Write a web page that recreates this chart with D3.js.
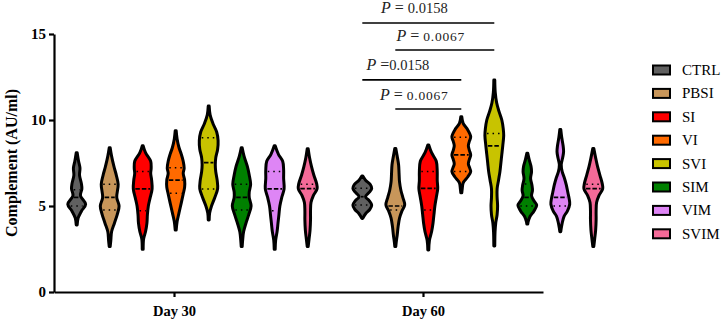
<!DOCTYPE html>
<html>
<head>
<meta charset="utf-8">
<script src="https://cdn.jsdelivr.net/npm/d3@7"></script>
<style>
  body { margin: 0; background: #fff; }
  text { font-family: "Liberation Serif", "Times New Roman", serif; }
</style>
</head>
<body>
<div id="chart"></div>
<script>
// Categories
const days = ["Day 30", "Day 60"];
const groups = ["CTRL", "PBSI", "SI", "VI", "SVI", "SIM", "VIM", "SVIM"];
const yTicks = [0, 5, 10, 15];

// Violin outlines: [value, relative density]
const day30Profiles = [
  [[8.1,0.05],[7.6,0.2],[7.2,0.35],[6.8,0.3],[6.3,0.5],[6.0,0.55],[5.6,0.4],[5.1,0.95],[4.7,0.5],[4.3,0.15],[3.9,0.05]],
  [[8.39,0.05],[7.9,0.2],[7.3,0.45],[6.8,0.7],[6.26,0.9],[5.5,0.75],[5.0,1.0],[4.5,0.8],[4.0,0.5],[3.5,0.2],[3.0,0.12],[2.64,0.05]],
  [[8.5,0.05],[8.1,0.3],[7.6,0.85],[7.2,0.9],[6.9,0.85],[6.5,0.95],[6.0,1.0],[5.5,0.8],[5.0,0.6],[4.5,0.5],[4.0,0.45],[3.5,0.3],[3.1,0.1],[2.48,0.05]],
  [[9.38,0.05],[8.9,0.15],[8.4,0.35],[8.0,0.6],[7.6,0.8],[7.2,0.9],[6.9,0.8],[6.5,0.95],[6.1,0.95],[5.7,0.8],[5.2,0.6],[4.6,0.35],[4.1,0.15],[3.6,0.05]],
  [[10.81,0.05],[10.3,0.15],[9.8,0.45],[9.3,0.85],[8.8,1.0],[8.3,0.95],[7.8,0.75],[7.4,0.7],[7.0,0.75],[6.5,0.9],[6.0,0.95],[5.5,0.65],[5.0,0.3],[4.6,0.1],[4.19,0.05]],
  [[8.39,0.05],[7.9,0.25],[7.3,0.6],[6.8,0.8],[6.26,0.95],[5.8,0.8],[5.5,0.8],[5.0,1.0],[4.5,0.75],[4.0,0.45],[3.5,0.2],[3.0,0.1],[2.64,0.05]],
  [[8.5,0.05],[8.0,0.4],[7.6,0.85],[7.1,0.95],[6.6,0.95],[6.0,1.0],[5.5,0.75],[5.0,0.55],[4.5,0.45],[4.0,0.35],[3.5,0.25],[3.0,0.1],[2.48,0.05]],
  [[8.33,0.05],[7.8,0.2],[7.3,0.4],[6.8,0.65],[6.3,0.95],[6.0,1.0],[5.6,0.6],[5.2,0.35],[4.7,0.3],[4.2,0.3],[3.6,0.25],[3.1,0.15],[2.64,0.05]]
];
const day60Profiles = [
  [[6.74,0.05],[6.5,0.35],[6.25,0.85],[6.03,1.0],[5.8,0.75],[5.54,0.35],[5.3,0.75],[5.06,1.0],[4.8,0.8],[4.55,0.35],[4.28,0.05]],
  [[8.35,0.05],[7.9,0.2],[7.4,0.35],[6.9,0.4],[6.4,0.45],[5.9,0.6],[5.5,0.8],[5.06,1.0],[4.7,0.7],[4.3,0.45],[3.8,0.3],[3.3,0.2],[2.9,0.1],[2.64,0.05]],
  [[8.55,0.05],[8.1,0.35],[7.6,0.85],[7.0,0.95],[6.5,0.95],[6.0,1.0],[5.5,0.85],[5.0,0.7],[4.5,0.6],[4.0,0.5],[3.5,0.35],[3.0,0.12],[2.44,0.05]],
  [[10.19,0.05],[9.8,0.2],[9.5,0.6],[9.03,1.0],[8.75,0.85],[8.5,0.75],[8.25,0.85],[7.97,1.0],[7.7,0.85],[7.45,0.75],[7.2,0.9],[7.0,1.0],[6.7,0.7],[6.35,0.2],[6.0,0.1],[5.77,0.05]],
  [[12.33,0.05],[11.6,0.1],[11.0,0.25],[10.5,0.5],[10.0,0.8],[9.5,0.95],[9.1,1.0],[8.5,0.9],[8.0,0.8],[7.5,0.7],[7.0,0.6],[6.5,0.45],[6.0,0.3],[5.5,0.3],[5.0,0.35],[4.5,0.3],[4.0,0.15],[3.5,0.08],[2.67,0.05]],
  [[8.06,0.05],[7.7,0.2],[7.3,0.4],[7.0,0.45],[6.6,0.35],[6.2,0.5],[5.9,0.55],[5.6,0.45],[5.3,0.7],[5.05,1.0],[4.7,0.7],[4.4,0.3],[4.1,0.1],[3.95,0.05]],
  [[9.45,0.05],[9.0,0.15],[8.5,0.3],[8.16,0.35],[7.8,0.25],[7.4,0.1],[7.0,0.2],[6.6,0.45],[6.2,0.65],[5.8,0.8],[5.4,0.95],[5.1,1.0],[4.7,0.75],[4.4,0.4],[4.0,0.2],[3.7,0.1],[3.51,0.05]],
  [[8.35,0.05],[7.8,0.25],[7.3,0.45],[6.8,0.7],[6.3,0.95],[6.0,1.0],[5.6,0.6],[5.2,0.35],[4.7,0.3],[4.2,0.3],[3.6,0.25],[3.1,0.15],[2.64,0.05]]
];

// Medians and quartiles (null where none is visible)
const day30Median = [5.5, 5.5, 5.99, 6.51, 7.52, 5.5, 5.99, 6.01];
const day30Q1 = [5.0, 4.77, 4.73, 5.74, 5.99, 4.77, 4.73, null];
const day30Q3 = [5.95, 6.26, 7.0, 7.23, 8.97, 6.26, 7.0, 6.26];
const day60Median = [5.54, 5.0, 6.03, 7.97, 8.49, 5.5, 5.5, 6.01];
const day60Q1 = [5.06, 4.77, 4.77, 7.0, null, 5.0, 5.0, null];
const day60Q3 = [6.03, null, 7.0, 9.0, 9.22, 6.28, null, 6.26];

// Significance comparisons at Day 60
const compFrom = ["CTRL", "PBSI", "CTRL", "PBSI"];
const compTo = ["SVI", "SVI", "VI", "VI"];
const pValues = ["0.0158", "0.0067", "0.0158", "0.0067"];

const colors = ["#606060", "#c8965a", "#ff0000", "#ff6a00", "#c8c300", "#008000", "#de85f5", "#f46a98"];

const W = 728, H = 322;
const svg = d3.select("#chart").append("svg")
  .attr("width", W).attr("height", H);

const y = d3.scaleLinear().domain([0, 15]).range([292, 34]);
const xAxisScale = d3.scalePoint().domain(days).range([54, 543]).padding(0.482);
const xGroup = d3.scalePoint().domain(days).range([192.2, 477.8]);
const xInner = d3.scalePoint().domain(groups).range([-115.5, 115.5]);
const wScale = d3.scaleLinear().domain([0, 1]).range([0, 9.4]);
const color = d3.scaleOrdinal().domain(groups).range(colors);

// Axes
const yAxis = svg.append("g")
  .attr("transform", "translate(54,0)")
  .call(d3.axisLeft(y).tickValues(yTicks).tickSize(5).tickPadding(3).tickSizeOuter(0));
yAxis.select(".domain").attr("stroke-width", 2.2);
yAxis.selectAll(".tick line").attr("stroke-width", 2.2);
yAxis.selectAll(".tick text")
  .attr("font-size", 15).attr("font-weight", "bold")
  .attr("font-family", "Liberation Serif").attr("fill", "#000");

const xAxis = svg.append("g")
  .attr("transform", "translate(0,292)")
  .call(d3.axisBottom(xAxisScale).tickSize(5).tickPadding(9).tickSizeOuter(0));
xAxis.select(".domain").attr("stroke-width", 2.2);
xAxis.selectAll(".tick line").attr("stroke-width", 2.2);
xAxis.selectAll(".tick text")
  .attr("font-size", 14.5).attr("font-weight", "bold")
  .attr("font-family", "Liberation Serif").attr("fill", "#000");

svg.append("text")
  .attr("transform", "translate(17,163) rotate(-90)")
  .attr("text-anchor", "middle")
  .attr("font-size", 16)
  .attr("font-weight", "bold")
  .text("Complement (AU/ml)");

// Violins
const violins = [];
days.forEach((day, di) => {
  const profiles = di === 0 ? day30Profiles : day60Profiles;
  const med = di === 0 ? day30Median : day60Median;
  const q1 = di === 0 ? day30Q1 : day60Q1;
  const q3 = di === 0 ? day30Q3 : day60Q3;
  groups.forEach((g, gi) => {
    violins.push({ day, group: g, profile: profiles[gi], median: med[gi], q1: q1[gi], q3: q3[gi] });
  });
});

function densityAt(profile, v) {
  for (let i = 0; i < profile.length - 1; i++) {
    const a = profile[i], b = profile[i + 1];
    if (v <= a[0] && v >= b[0]) {
      const t = (a[0] - v) / (a[0] - b[0]);
      return a[1] + t * (b[1] - a[1]);
    }
  }
  return 0;
}

const cell = svg.selectAll("g.violin")
  .data(violins)
  .enter()
  .append("g")
  .attr("class", "violin")
  .attr("transform", (d) => `translate(${xGroup(d.day) + xInner(d.group)},0)`);

cell.append("path")
  .attr("d", (d) => d3.area()
    .curve(d3.curveCatmullRom.alpha(0.5))
    .y((p) => y(p[0]))
    .x0((p) => -wScale(p[1]))
    .x1((p) => wScale(p[1]))(d.profile))
  .attr("fill", (d) => color(d.group))
  .attr("stroke", "#000")
  .attr("stroke-width", 3)
  .attr("stroke-linejoin", "round");

const lineDefs = [
  { key: "median", dash: "4.5,2", width: 1.7 },
  { key: "q1", dash: "1.5,4", width: 1.5 },
  { key: "q3", dash: "1.5,4", width: 1.5 }
];
lineDefs.forEach((ld) => {
  cell.filter((d) => d[ld.key] !== null)
    .append("line")
    .attr("x1", (d) => -Math.max(0, wScale(densityAt(d.profile, d[ld.key])) - 2))
    .attr("x2", (d) => Math.max(0, wScale(densityAt(d.profile, d[ld.key])) - 2))
    .attr("y1", (d) => y(d[ld.key]))
    .attr("y2", (d) => y(d[ld.key]))
    .attr("stroke", "#000")
    .attr("stroke-width", ld.width)
    .attr("stroke-dasharray", ld.dash);
});

// Significance bars
const barLevels = [15.64, 14.07, 12.33, 10.64];
const numSizes = [14.5, 13.5, 14.5, 13.5];
compFrom.forEach((from, i) => {
  const xa = xGroup("Day 60") + xInner(from);
  const xb = xGroup("Day 60") + xInner(compTo[i]);
  const yy = y(barLevels[i]);
  svg.append("line")
    .attr("x1", xa).attr("x2", xb)
    .attr("y1", yy).attr("y2", yy)
    .attr("stroke", "#000").attr("stroke-width", 1.6);
  const t = svg.append("text")
    .attr("x", (xa + xb) / 2 - 14)
    .attr("y", yy - (numSizes[i] > 14 ? 10 : 8.5))
    .attr("text-anchor", "middle")
    .attr("fill", "#222");
  t.append("tspan").attr("font-style", "italic").attr("font-size", 16).text("P");
  t.append("tspan").attr("font-size", 16).text(i === 2 ? " =" : " = ");
  t.append("tspan").attr("font-size", numSizes[i])
    .attr("letter-spacing", numSizes[i] > 14 ? 0 : 0.8)
    .text(pValues[i]);
});

// Legend
const legend = svg.selectAll("g.legend")
  .data(groups)
  .enter()
  .append("g")
  .attr("class", "legend")
  .attr("transform", (d, i) => `translate(652,${70 + i * 23.4})`);
legend.append("rect")
  .attr("x", 1).attr("y", -4.5)
  .attr("width", 17).attr("height", 9)
  .attr("fill", (d) => color(d))
  .attr("stroke", "#000").attr("stroke-width", 2);
legend.append("text")
  .attr("x", 30).attr("y", 5)
  .attr("font-size", 15)
  .text((d) => d);
</script>
</body>
</html>
